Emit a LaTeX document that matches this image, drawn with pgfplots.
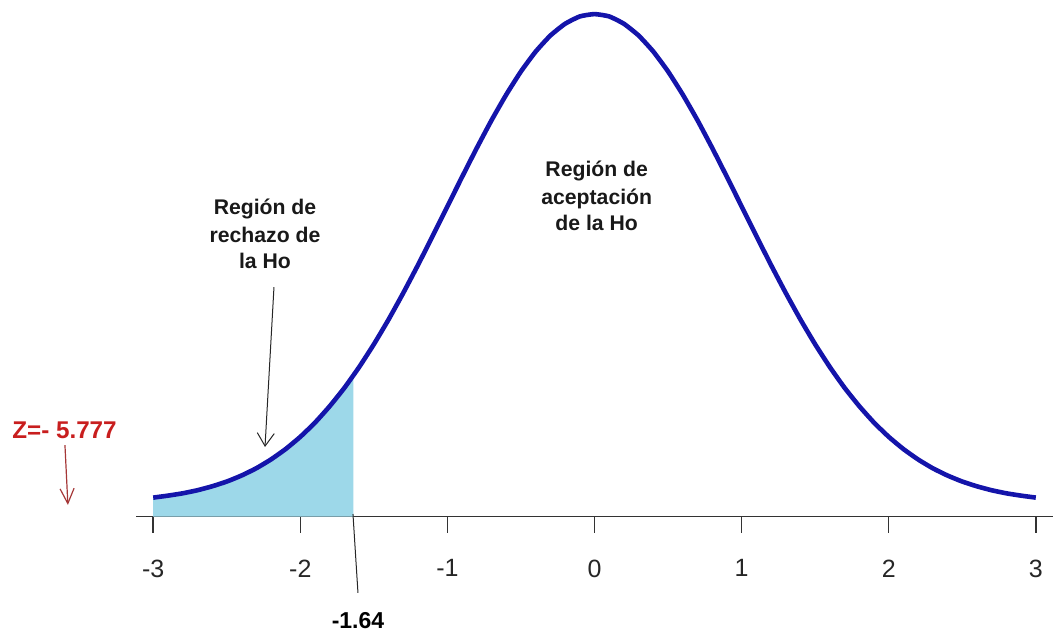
\documentclass[border=0pt]{standalone}
\usepackage{fontspec}
\setmainfont{Liberation Sans}
\usepackage{pgfplots}
\pgfplotsset{compat=1.18}
\usetikzlibrary{arrows.meta}
\definecolor{curveblue}{RGB}{20,20,170}
\definecolor{fillblue}{RGB}{157,216,233}
\definecolor{zred}{RGB}{200,30,30}
\definecolor{arrred}{RGB}{165,55,55}
\begin{document}
\begin{tikzpicture}
\path[use as bounding box] (0,0) rectangle (526.5pt,316pt);
\begin{axis}[
  at={(68pt,57.65pt)}, anchor=south west,
  scale only axis, width=458.5pt, height=258.35pt,
  xmin=-3.117, xmax=3.117, ymin=-0.01118, ymax=0.4104,
  axis x line*=bottom, axis y line=none,
  x axis line style={line width=0.75pt, black!80, -},
  xtick={-3,-2,-1,0,1,2,3},
  xticklabels={-3,-2,-1,0,1,2,3},
  tick align=outside, major tick length=8pt,
  tick style={line width=0.75pt, black!80},
  xticklabel style={font=\fontsize{12.5}{14}\selectfont, text=black!85, yshift=-10pt},
  clip=false,
]
% rejection region fill
\addplot[fill=fillblue, draw=none] coordinates {
(-3,-0.01118) (-3,0.0044) (-2.9,0.0060) (-2.8,0.0079) (-2.7,0.0104) (-2.6,0.0136)
(-2.5,0.0175) (-2.4,0.0224) (-2.3,0.0283) (-2.2,0.0355) (-2.1,0.0440) (-2.0,0.0540)
(-1.9,0.0656) (-1.8,0.0790) (-1.7,0.0940) (-1.64,0.1040) (-1.64,-0.01118)} -- cycle;
% normal density curve
\addplot[curveblue, line width=2.3pt, smooth, tension=0.3] coordinates {
(-3.0,0.0044) (-2.9,0.0060) (-2.8,0.0079) (-2.7,0.0104) (-2.6,0.0136) (-2.5,0.0175)
(-2.4,0.0224) (-2.3,0.0283) (-2.2,0.0355) (-2.1,0.0440) (-2.0,0.0540) (-1.9,0.0656)
(-1.8,0.0790) (-1.7,0.0940) (-1.6,0.1109) (-1.5,0.1295) (-1.4,0.1497) (-1.3,0.1714)
(-1.2,0.1942) (-1.1,0.2179) (-1.0,0.2420) (-0.9,0.2661) (-0.8,0.2897) (-0.7,0.3123)
(-0.6,0.3332) (-0.5,0.3521) (-0.4,0.3683) (-0.3,0.3814) (-0.2,0.3910) (-0.1,0.3970)
(0.0,0.3989) (0.1,0.3970) (0.2,0.3910) (0.3,0.3814) (0.4,0.3683) (0.5,0.3521)
(0.6,0.3332) (0.7,0.3123) (0.8,0.2897) (0.9,0.2661) (1.0,0.2420) (1.1,0.2179)
(1.2,0.1942) (1.3,0.1714) (1.4,0.1497) (1.5,0.1295) (1.6,0.1109) (1.7,0.0940)
(1.8,0.0790) (1.9,0.0656) (2.0,0.0540) (2.1,0.0440) (2.2,0.0355) (2.3,0.0283)
(2.4,0.0224) (2.5,0.0175) (2.6,0.0136) (2.7,0.0104) (2.8,0.0079) (2.9,0.0060)
(3.0,0.0044)};
% annotations
\begin{scope}[every node/.style={font=\fontsize{10.6}{12}\selectfont\bfseries, text=black!90, anchor=base, inner sep=0pt}]
\node at (axis cs:-2.24,0.2350) {Región de};
\node at (axis cs:-2.24,0.2124) {rechazo de};
\node at (axis cs:-2.24,0.1915) {la Ho};
\node at (axis cs:0.015,0.2660) {Región de};
\node at (axis cs:0.015,0.2435) {aceptación};
\node at (axis cs:0.015,0.2220) {de la Ho};
\end{scope}
\draw[black!85, line width=0.5pt, -{Straight Barb[length=6.5pt,width=8.5pt]}]
  (axis cs:-2.179,0.1762) -- (axis cs:-2.240,0.0457);
\node[font=\fontsize{12.1}{14}\selectfont\bfseries, text=zred, anchor=base west, inner sep=0pt]
  at (axis cs:-3.960,0.0530) {Z=- 5.777};
\draw[arrred, line width=0.6pt, -{Straight Barb[length=7.5pt,width=7pt]}]
  (axis cs:-3.600,0.0473) -- (axis cs:-3.580,-0.0016);
\draw[black!85, line width=0.5pt] (axis cs:-1.642,-0.00898) -- (axis cs:-1.608,-0.0734);
\node[font=\fontsize{11.5}{13}\selectfont\bfseries, text=black, anchor=base, inner sep=0pt]
  at (axis cs:-1.608,-0.1020) {-1.64};
\end{axis}
\end{tikzpicture}
\end{document}
